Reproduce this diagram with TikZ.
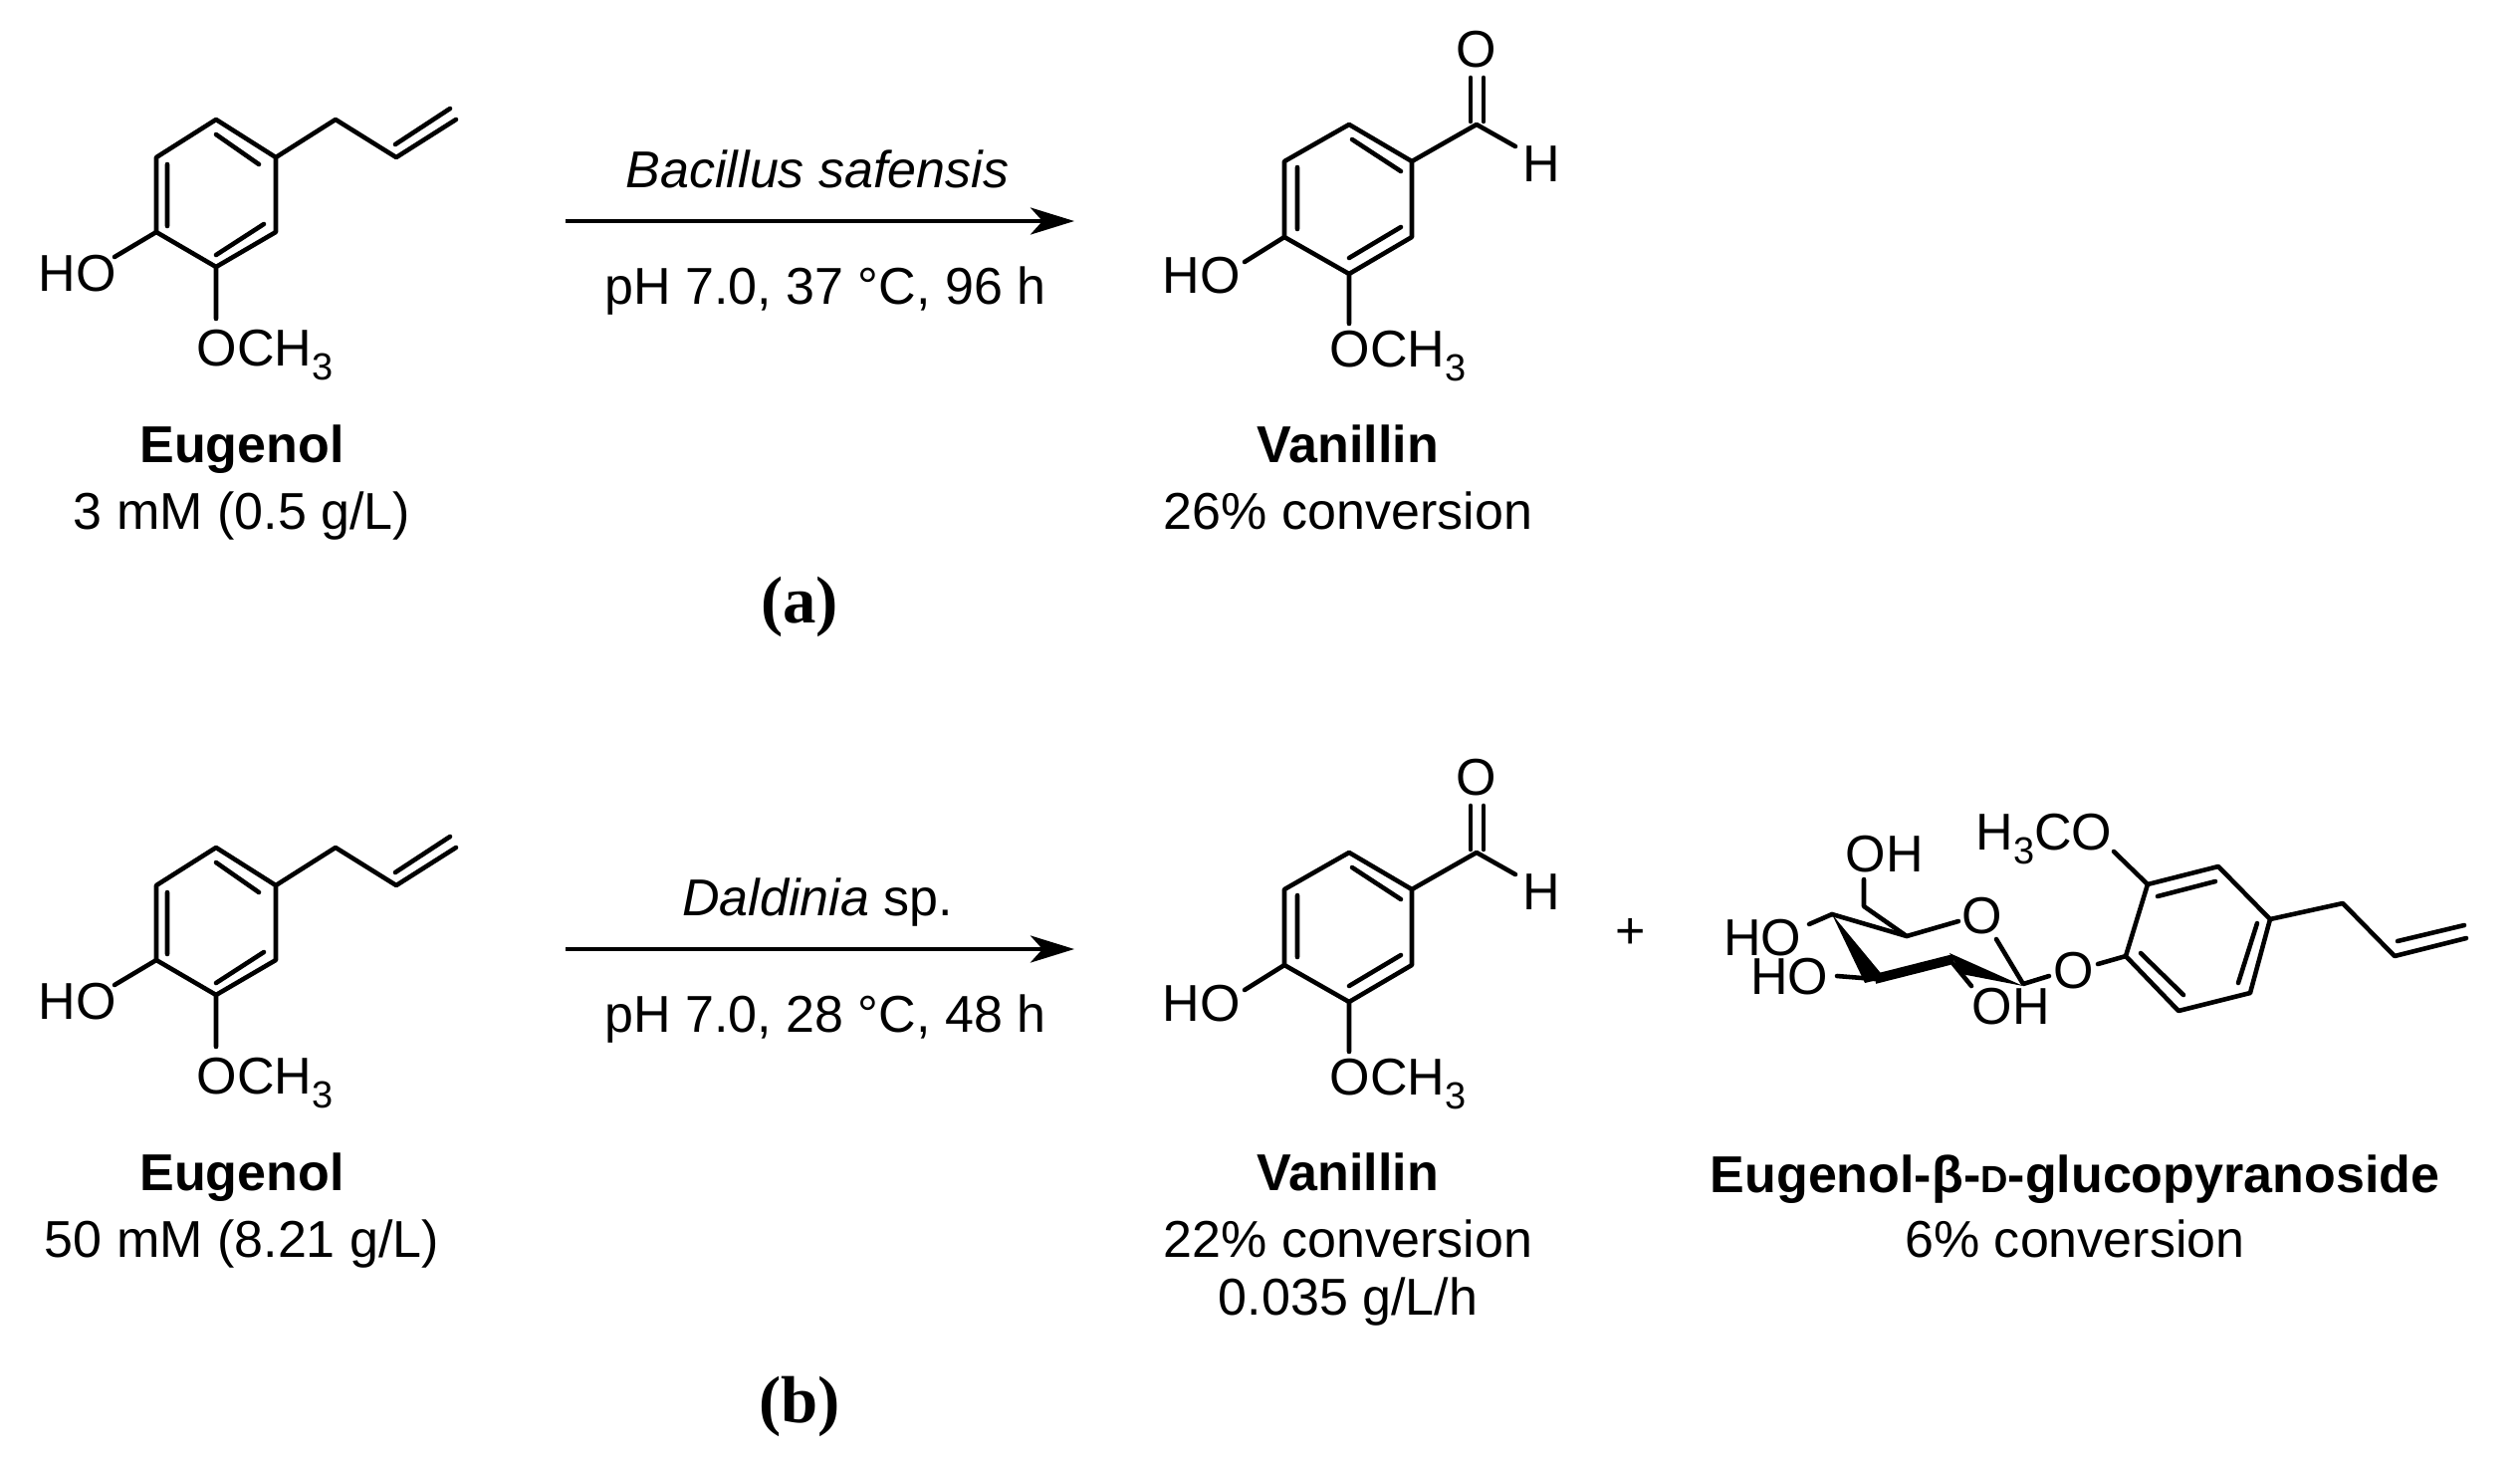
\documentclass[tikz,border=0pt]{standalone}
\usepackage{fontspec}
\setmainfont{Liberation Sans}
\newfontfamily\tnr{Liberation Serif}
\usetikzlibrary{arrows.meta}
\newcommand\chsub[1]{\raisebox{-0.28em}{\fontsize{10.8}{10.8}\selectfont #1}}
\begin{document}
\begin{tikzpicture}[x=0.1mm,y=-0.1mm,
  bond/.style={line width=1.3pt,line cap=round,line join=round},
  atom/.style={inner sep=0pt,font=\fontsize{14.8}{16}\selectfont},
  lab/.style={inner sep=0pt,anchor=base,font=\fontsize{14.8}{16}\selectfont},
  blab/.style={lab,font=\fontsize{14.8}{16}\selectfont\bfseries},
  pl/.style={inner sep=0pt,anchor=base,font=\fontsize{19}{20}\selectfont\tnr\bfseries},
  rxn/.style={line width=1.3pt,-{Stealth[length=4.4mm,width=2.7mm,inset=1.2mm]}}]
\useasboundingbox (0,0) rectangle (2531,1470);
% ---------- eugenol (a and b)
\foreach \dy/\nm in {0/ea,731/eb}{
\begin{scope}[yshift=-\dy*0.1mm]
\draw[bond] (217,120)--(277,158)--(277,233)--(217,268)--(157,233)--(157,158)--cycle;
\draw[bond] (168,165)--(168,227) (217,135)--(260,165) (265,225)--(217,256);
\draw[bond] (277,158)--(337,120)--(398,158)--(458,120) (397,145)--(452,109);
\draw[bond] (157,233)--(115,258) (217,268)--(217,320);
\node[lab] (\nm-ho) at (78,292) {HO};
\node[lab,anchor=base west] (\nm-ome) at (197,367) {OCH\chsub{3}};
\end{scope}}
% ---------- vanillin (a and b)
\foreach \dy/\nm in {0/va,731/vb}{
\begin{scope}[yshift=-\dy*0.1mm]
\draw[bond] (1355,125)--(1418,162)--(1418,238)--(1355,275)--(1290,238)--(1290,162)--cycle;
\draw[bond] (1303,168)--(1303,230) (1358,140)--(1407,172) (1407,228)--(1355,259);
\draw[bond] (1418,162)--(1483,125)--(1522,147);
\draw[bond] (1477,78)--(1477,122) (1490,78)--(1490,122);
\draw[bond] (1290,238)--(1250,263) (1355,275)--(1355,325);
\node[atom] (\nm-o) at (1483,50) {O};
\node[atom] (\nm-h) at (1548,165) {H};
\node[lab] (\nm-ho) at (1207,294) {HO};
\node[lab,anchor=base west] (\nm-ome) at (1335,368) {OCH\chsub{3}};
\end{scope}}
% ---------- arrows and conditions
\coordinate (a1) at (568,222); \coordinate (a2) at (1079,222);
\coordinate (b1) at (568,953); \coordinate (b2) at (1079,953);
\draw[rxn] (a1)--(a2);
\draw[rxn] (b1)--(b2);
\node[lab] (ca1) at (821,188) {\itshape Bacillus safensis};
\node[lab] (ca2) at (829,305) {pH 7.0, 37 °C, 96 h};
\node[lab] (cb1) at (821,919) {\itshape Daldinia\/\upshape\ sp.};
\node[lab] (cb2) at (829,1036) {pH 7.0, 28 °C, 48 h};
% ---------- labels
\node[blab] (l1) at (243,464) {Eugenol};
\node[lab] (l2) at (243,531) {3 mM (0.5 g/L)};
\node[blab] (l3) at (1354,464) {Vanillin};
\node[lab] (l4) at (1354,531) {26\% conversion};
\node[pl] (pa) at (803,625) {(a)};
\node[blab] (l5) at (243,1195) {Eugenol};
\node[lab] (l6) at (243,1262) {50 mM (8.21 g/L)};
\node[blab] (l7) at (1354,1195) {Vanillin};
\node[lab] (l8) at (1354,1262) {22\% conversion};
\node[lab] (l9) at (1354,1320) {0.035 g/L/h};
\node[blab] (l10) at (2084,1197) {Eugenol-β-{\fontsize{10.8}{12}\selectfont D}-glucopyranoside};
\node[lab] (l11) at (2084,1262) {6\% conversion};
\node[pl] (pb) at (803,1428) {(b)};
\node[atom] (plus) at (1638,937) {+};
% ---------- glucoside
\draw[bond] (2157,888)--(2228,870)--(2280,923)--(2260,997)--(2188,1015)--(2135,960)--cycle;
\draw[bond] (2167,900)--(2225,885) (2267,927)--(2248,987) (2150,957)--(2193,999);
\draw[bond] (2280,923)--(2353,907)--(2405,960)--(2477,942) (2408,945)--(2475,929);
\draw[bond] (2157,888)--(2123,855) (2135,960)--(2107,968);
\node[lab,anchor=base east] (g-ome) at (2122,853) {H\chsub{3}CO};
\node[atom] (g-ol) at (2083,975) {O};
\node[atom] (g-or) at (1991,920) {O};
\node[lab,anchor=base west] (g-oh6) at (1853,875) {OH};
\node[lab,anchor=base east] (g-oh4) at (1810,959) {HO};
\node[lab,anchor=base east] (g-oh3) at (1837,998) {HO};
\node[lab,anchor=base west] (g-oh2) at (1980,1028) {OH};
\draw[bond] (1872,883)--(1872,910)--(1915,940);
\draw[bond] (1840,918)--(1915,940)--(1967,925);
\draw[bond] (2005,943)--(2032,988)--(2058,980);
\draw[bond] (1840,918)--(1817,928) (1883,983)--(1845,980) (1962,968)--(1980,990);
\fill (1840,918)--(1873,987)--(1893,982)--cycle;
\draw[line width=2.8pt] (1883,983)--(1962,963);
\fill (1958,957)--(1970,978)--(2032,990)--cycle;
\end{tikzpicture}
\end{document}
